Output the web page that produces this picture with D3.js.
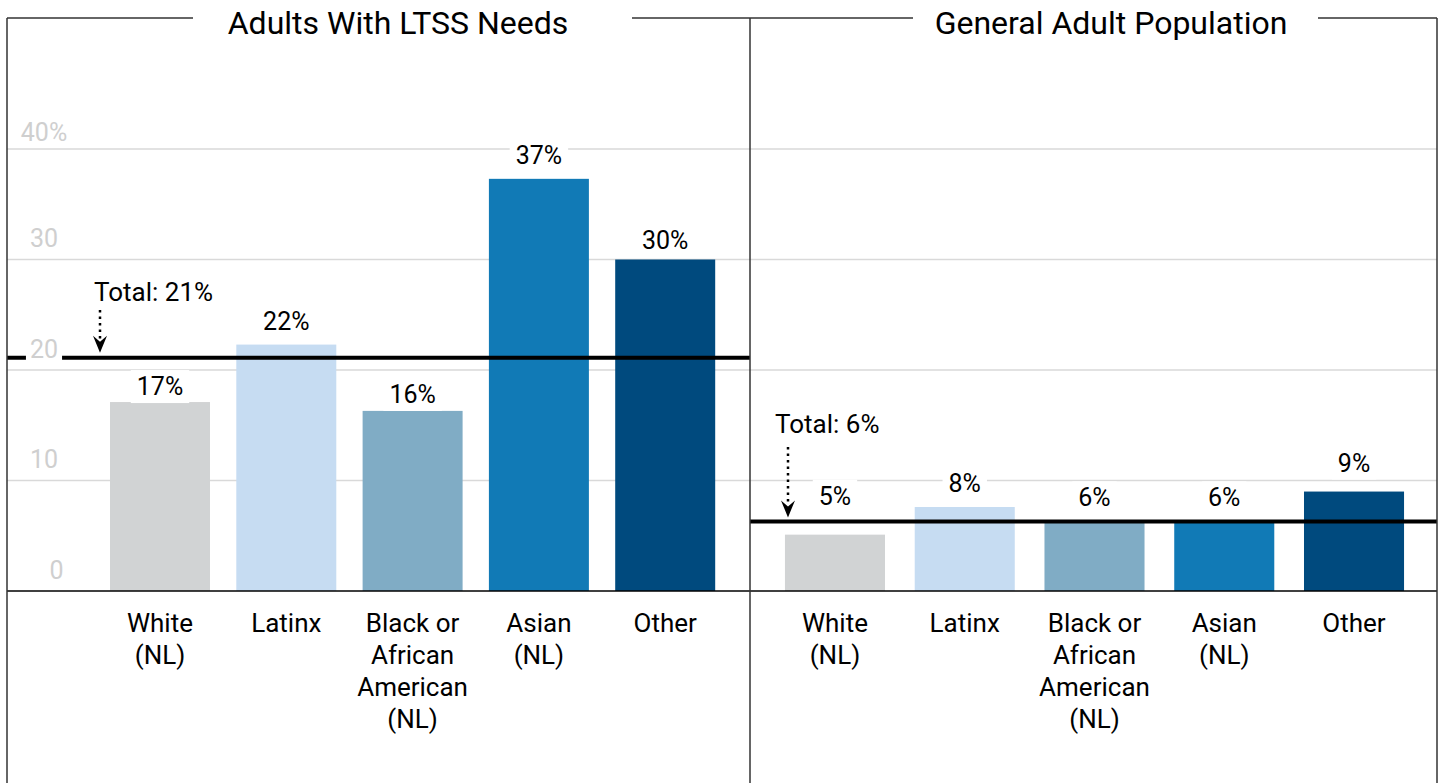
<!DOCTYPE html>
<html>
<head>
<meta charset="utf-8">
<script src="https://cdn.jsdelivr.net/npm/d3@7"></script>
<style>
  html, body { margin: 0; padding: 0; background: #fff; }
  svg { display: block; font-family: Roboto, "Noto Sans", sans-serif; }
</style>
</head>
<body>
<svg id="chart" width="1443" height="783"></svg>
<script>
// ---------------- data ----------------
const categories = ["White (NL)", "Latinx", "Black or African American (NL)", "Asian (NL)", "Other"];
const categoryLines = [["White", "(NL)"], ["Latinx"], ["Black or", "African", "American", "(NL)"], ["Asian", "(NL)"], ["Other"]];
const panelTitles = ["Adults With LTSS Needs", "General Adult Population"];
const ltssValues = [17.1, 22.3, 16.3, 37.3, 30.0];
const generalValues = [5.1, 7.6, 6.3, 6.3, 9.0];
const totals = [21.1, 6.3];
const totalLabels = ["Total: 21%", "Total: 6%"];
const tickValues = [0, 10, 20, 30, 40];
const tickLabels = ["0", "10", "20", "30", "40%"];
const barColors = ["#d1d3d4", "#c6dcf2", "#80acc5", "#117ab6", "#004a7e"];

// ---------------- layout ----------------
const W = 1443, H = 783;
const baseY = 591, topY = 149;
const svg = d3.select("#chart");
const y = d3.scaleLinear().domain([0, 40]).range([baseY, topY]);
const fmt = v => Math.round(v) + "%";

const panels = [
  { x0: 7, x1: 750, values: ltssValues, bandRange: [96.85, 728.35], padInner: 0.2083,
    titleX: 398, labelGaps: [7, 15, 8, 15, 11],
    annX: 100, annTextX: 94, annTextY: 301, dotTop: 310, tipGap: 5, showTicks: true },
  { x0: 750, x1: 1437, values: generalValues, bandRange: [770.1, 1418.9], padInner: 0.229,
    titleX: 1111, labelGaps: [30, 15, 15, 15, 20],
    annX: 788, annTextX: 775, annTextY: 433, dotTop: 447, tipGap: 4, showTicks: false }
];

panels.forEach((p, pi) => {
  const g = svg.append("g");
  const x = d3.scaleBand().domain(categories).range(p.bandRange)
    .paddingInner(p.padInner).paddingOuter(p.padInner / 2);

  // gridlines
  g.selectAll("line.grid").data(tickValues.filter(t => t > 0)).join("line")
    .attr("x1", p.x0).attr("x2", p.x1)
    .attr("y1", d => y(d)).attr("y2", d => y(d))
    .attr("stroke", "#d9d9d9").attr("stroke-width", 1.5);

  // bars
  g.selectAll("rect.bar").data(p.values).join("rect")
    .attr("x", (d, i) => x(categories[i]))
    .attr("width", x.bandwidth())
    .attr("y", d => y(d))
    .attr("height", d => baseY - y(d))
    .attr("fill", (d, i) => barColors[i]);

  // total line
  const ty = y(totals[pi]);
  g.append("line").attr("x1", p.x0).attr("x2", p.x1).attr("y1", ty).attr("y2", ty)
    .attr("stroke", "#000").attr("stroke-width", 4);

  // annotation
  const tipY = ty - p.tipGap;
  g.append("text").attr("x", p.annTextX).attr("y", p.annTextY)
    .attr("font-size", 26).attr("fill", "#000").text(totalLabels[pi]);
  g.append("line").attr("x1", p.annX).attr("x2", p.annX)
    .attr("y1", p.dotTop).attr("y2", tipY - 12)
    .attr("stroke", "#000").attr("stroke-width", 2.5).attr("stroke-dasharray", "2.5,4");
  g.append("path")
    .attr("d", `M${p.annX},${tipY} L${p.annX - 7},${tipY - 17} L${p.annX},${tipY - 11} L${p.annX + 7},${tipY - 17} Z`)
    .attr("fill", "#000");

  // value labels with white boxes
  const lbl = g.selectAll("g.vl").data(p.values).join("g");
  lbl.each(function(d, i) {
    const gg = d3.select(this);
    const cx = x(categories[i]) + x.bandwidth() / 2;
    const by = y(d) - p.labelGaps[i];
    const t = gg.append("text").attr("x", cx).attr("y", by).attr("text-anchor", "middle")
      .attr("font-size", 25).attr("fill", "#000").text(fmt(d));
    const bb = t.node().getBBox();
    gg.insert("rect", "text").attr("x", bb.x - 6).attr("y", bb.y - 2)
      .attr("width", bb.width + 12).attr("height", bb.height + 4).attr("fill", "#fff");
  });

  // category labels
  g.selectAll("text.cat").data(categoryLines).join("text")
    .attr("text-anchor", "middle").attr("font-size", 26).attr("fill", "#000")
    .each(function(lines, i) {
      const cx = x(categories[i]) + x.bandwidth() / 2;
      d3.select(this).selectAll("tspan").data(lines).join("tspan")
        .attr("x", cx).attr("y", (l, j) => 632 + j * 32).text(l => l);
    });

  // tick labels
  if (p.showTicks) {
    tickValues.forEach((t, i) => {
      const tg = g.append("g");
      const tx = t === 0 ? 56.5 : 44;
      const tyy = t === 40 ? y(t) - 8 : y(t) - 12.5;
      const te = tg.append("text").attr("x", tx).attr("y", tyy).attr("text-anchor", "middle")
        .attr("font-size", 25).attr("fill", "#cfcfcf").text(tickLabels[i]);
      const bb = te.node().getBBox();
      tg.insert("rect", "text").attr("x", bb.x - 4).attr("y", bb.y)
        .attr("width", bb.width + 8).attr("height", bb.height).attr("fill", "#fff");
    });
  }

  // title
  svg.append("text").attr("x", p.titleX).attr("y", 34).attr("text-anchor", "middle")
    .attr("font-size", 32).attr("fill", "#000").text(panelTitles[pi]);
});

// axis baseline
svg.append("line").attr("x1", 7).attr("x2", 1437).attr("y1", baseY).attr("y2", baseY)
  .attr("stroke", "#000").attr("stroke-width", 1.5);

// frame
const frame = svg.append("g").attr("stroke", "#333").attr("stroke-width", 1.5).attr("fill", "none");
[[7], [750], [1437]].forEach(([fx]) => {
  frame.append("line").attr("x1", fx).attr("x2", fx).attr("y1", 18).attr("y2", H);
});
[[7, 193], [632, 913], [1318, 1437]].forEach(([a, b]) => {
  frame.append("line").attr("x1", a).attr("x2", b).attr("y1", 18).attr("y2", 18);
});
</script>
</body>
</html>
